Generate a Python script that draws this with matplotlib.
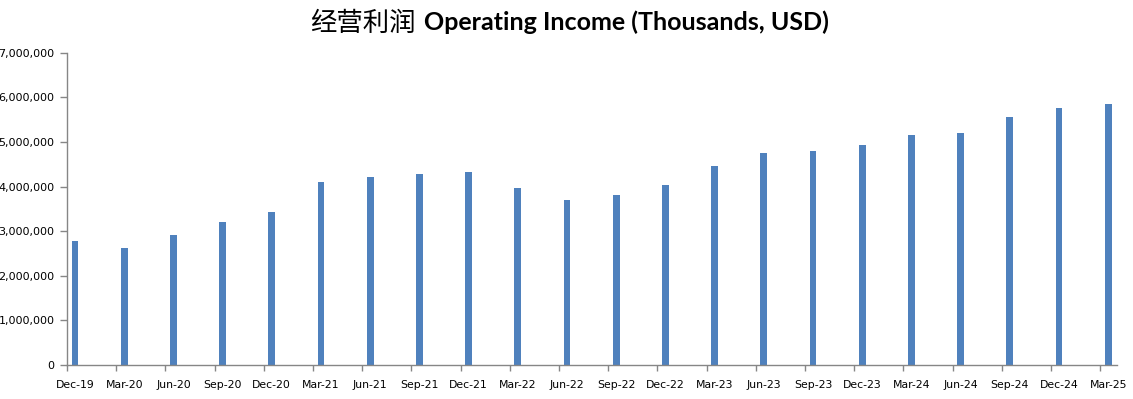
import matplotlib
matplotlib.use("Agg")
import matplotlib.pyplot as plt
from matplotlib.ticker import FuncFormatter, FixedLocator
import numpy as np

quarters = ["Dec-19", "Mar-20", "Jun-20", "Sep-20", "Dec-20", "Mar-21", "Jun-21",
            "Sep-21", "Dec-21", "Mar-22", "Jun-22", "Sep-22", "Dec-22", "Mar-23",
            "Jun-23", "Sep-23", "Dec-23", "Mar-24", "Jun-24", "Sep-24", "Dec-24", "Mar-25"]
operating_income = [2780000, 2620000, 2910000, 3200000, 3430000, 4100000, 4210000,
                    4280000, 4320000, 3970000, 3700000, 3810000, 4030000, 4460000,
                    4750000, 4790000, 4930000, 5150000, 5200000, 5560000, 5760000, 5850000]
y_ticks = [0, 1000000, 2000000, 3000000, 4000000, 5000000, 6000000, 7000000]

W, H = 1133, 399
fig = plt.figure(figsize=(W / 100, H / 100), dpi=100)
ax = fig.add_axes([67 / W, 1 - 365 / H, (1117 - 67) / W, (365 - 52.7) / H])

x = np.arange(len(quarters))
ax.bar(x, operating_income, width=0.14, color="#4F81BD", zorder=2)

ax.set_xlim(-0.163, len(quarters) - 1 + 0.18)
ax.set_ylim(0, 7000000)

spine_color = "#868686"
for s in ["top", "right"]:
    ax.spines[s].set_visible(False)
for s in ["left", "bottom"]:
    ax.spines[s].set_color(spine_color)
    ax.spines[s].set_linewidth(1.0)

ax.yaxis.set_major_locator(FixedLocator(y_ticks))
ax.yaxis.set_major_formatter(FuncFormatter(lambda v, p: f"{int(v):,}"))
ax.tick_params(axis="y", direction="out", length=5, width=1, color=spine_color,
               labelsize=8, pad=4, labelcolor="#000000")

ax.set_xticks(x)
ax.set_xticklabels(quarters)
ax.tick_params(axis="x", which="major", length=0, labelsize=7.8, pad=11, labelcolor="#000000")
ax.set_xticks(x - 0.163, minor=True)
ax.tick_params(axis="x", which="minor", direction="out", length=4, width=1, color=spine_color)

for lbl in ax.get_xticklabels() + ax.get_yticklabels():
    lbl.set_family("DejaVu Sans")

base_y = 1 - 30.5 / H
fig.text(416 / W, base_y, "经营利润", ha="right", va="baseline",
         family=["Noto Sans CJK SC", "DejaVu Sans"], fontsize=19, color="#000000")
fig.text(424 / W, base_y, "Operating Income (Thousands, USD)", ha="left", va="baseline",
         family=["Lato", "DejaVu Sans"], fontweight="bold", fontsize=18, color="#000000")

fig.savefig("out.png", dpi=100, facecolor="white")
